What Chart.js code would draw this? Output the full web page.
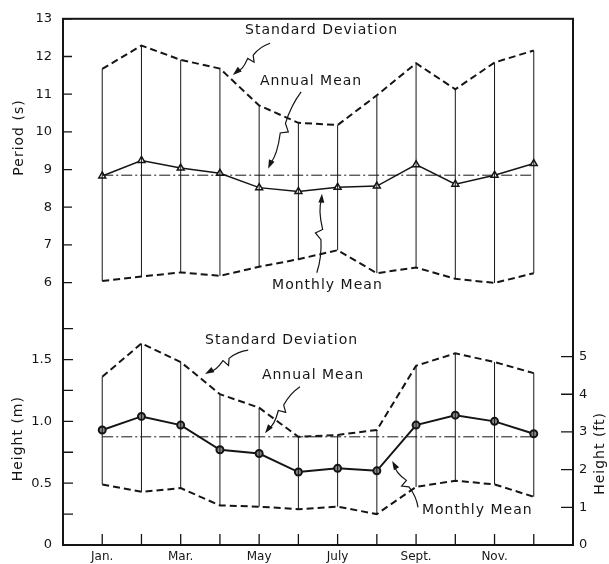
<!DOCTYPE html>
<html lang="en">
<head>
<meta charset="UTF-8" />
<title>Period and Height - Monthly Means</title>
<script src="https://cdn.jsdelivr.net/npm/chart.js"></script>
<style>
  html, body { margin: 0; padding: 0; background: #fff; }
  canvas { display: block; }
</style>
</head>
<body>
<canvas id="grafico" width="609" height="564"></canvas>
<script>
// ---- data ----
const months = [1, 2, 3, 4, 5, 6, 7, 8, 9, 10, 11, 12];
const monthLabels = ['Jan.', '', 'Mar.', '', 'May', '', 'July', '', 'Sept.', '', 'Nov.', ''];

const periodMean  = [8.83, 9.24, 9.04, 8.90, 8.52, 8.42, 8.53, 8.56, 9.13, 8.61, 8.85, 9.16];
const periodUpper = [11.67, 12.29, 11.91, 11.68, 10.70, 10.24, 10.18, 10.97, 11.82, 11.13, 11.84, 12.16];
const periodLower = [6.04, 6.16, 6.27, 6.18, 6.42, 6.62, 6.86, 6.25, 6.40, 6.10, 5.99, 6.25];
const periodAnnual = 8.85;

const heightMean  = [0.93, 1.04, 0.97, 0.77, 0.74, 0.59, 0.62, 0.60, 0.97, 1.05, 1.00, 0.90];
const heightUpper = [1.36, 1.63, 1.48, 1.22, 1.11, 0.875, 0.89, 0.93, 1.45, 1.55, 1.48, 1.39];
const heightLower = [0.49, 0.43, 0.46, 0.32, 0.31, 0.29, 0.31, 0.25, 0.47, 0.52, 0.49, 0.39];
const heightAnnual = 0.875;

const periodTicks = [6, 7, 8, 9, 10, 11, 12, 13];
const heightTicks = [0, 0.25, 0.5, 0.75, 1.0, 1.25, 1.5, 1.75];
const heightTickLabels = ['0', '', '0.5', '', '1.0', '', '1.5', ''];
const feetTicks = [0, 1, 2, 3, 4, 5];

const PERIOD_MIN = 5.5, PERIOD_MAX = 13;
const HEIGHT_MAX = 1.97;
const M_PER_FT = 0.3048;

// notes with leaders (text position and arrow start/tip in data units)
const notes = [
  { axis: 'yP', text: 'Standard Deviation', tx: 4.64, ty: 12.69, from: [5.28, 12.35], to: [4.33, 11.51] },
  { axis: 'yP', text: 'Annual Mean',        tx: 5.02, ty: 11.33, from: [6.07, 11.06], to: [5.23, 9.02] },
  { axis: 'yP', text: 'Monthly Mean',       tx: 5.33, ty: 5.92,  from: [6.47, 6.26],  to: [6.60, 8.36] },
  { axis: 'yH', text: 'Standard Deviation', tx: 3.62, ty: 1.656, from: [4.72, 1.576], to: [3.62, 1.384] },
  { axis: 'yH', text: 'Annual Mean',        tx: 5.07, ty: 1.376, from: [6.04, 1.28],  to: [5.15, 0.904] },
  { axis: 'yH', text: 'Monthly Mean',       tx: 9.15, ty: 0.28,  from: [9.05, 0.304], to: [8.39, 0.68] }
];

const FONT = '"DejaVu Sans", sans-serif';
const INK = '#151515';

const pts = arr => months.map((m, i) => ({ x: m, y: arr[i] }));
const whiskers = (lo, hi) => {
  const out = [];
  months.forEach((m, i) => { out.push({ x: m, y: lo[i] }, { x: m, y: hi[i] }, { x: m, y: null }); });
  return out;
};
const flat = v => [{ x: months[0], y: v }, { x: months[months.length - 1], y: v }];

const base = { type: 'line', pointRadius: 0, borderColor: INK, fill: false, tension: 0 };

// ---- extra drawing: frame, inward ticks, titles, notes ----
const dibujo = {
  id: 'dibujo',
  afterDraw(chart) {
    const { ctx, chartArea: a, scales } = chart;
    ctx.save();
    ctx.strokeStyle = INK;
    ctx.fillStyle = INK;

    ctx.lineWidth = 2;
    ctx.strokeRect(a.left, a.top, a.right - a.left, a.bottom - a.top);

    ctx.lineWidth = 1.3;
    ctx.beginPath();
    periodTicks.forEach(v => { const y = scales.yP.getPixelForValue(v); ctx.moveTo(a.left, y); ctx.lineTo(a.left + 9, y); });
    heightTicks.forEach(v => { const y = scales.yH.getPixelForValue(v); ctx.moveTo(a.left, y); ctx.lineTo(a.left + 10, y); });
    feetTicks.forEach(v => { const y = scales.yFt.getPixelForValue(v); ctx.moveTo(a.right, y); ctx.lineTo(a.right - 12, y); });
    months.forEach(v => { const x = scales.x.getPixelForValue(v); ctx.moveTo(x, a.bottom); ctx.lineTo(x, a.bottom - 11); });
    ctx.stroke();

    // axis titles
    ctx.font = '14px ' + FONT;
    ctx.letterSpacing = '1px';
    ctx.textAlign = 'center';
    ctx.textBaseline = 'middle';
    const vtext = (txt, x, y) => {
      ctx.save(); ctx.translate(x, y); ctx.rotate(-Math.PI / 2); ctx.fillText(txt, 0, 0); ctx.restore();
    };
    vtext('Period (s)', 19, scales.yP.getPixelForValue(9.85));
    vtext('Height (m)', 18, scales.yH.getPixelForValue(0.86));
    vtext('Height (ft)', 600, scales.yFt.getPixelForValue(2.43));

    // notes
    ctx.textAlign = 'left';
    notes.forEach(n => {
      const ys = scales[n.axis];
      ctx.fillText(n.text, scales.x.getPixelForValue(n.tx), ys.getPixelForValue(n.ty));
      const x0 = scales.x.getPixelForValue(n.from[0]), y0 = ys.getPixelForValue(n.from[1]);
      const x1 = scales.x.getPixelForValue(n.to[0]), y1 = ys.getPixelForValue(n.to[1]);
      const dx = x1 - x0, dy = y1 - y0, len = Math.hypot(dx, dy);
      const ux = dx / len, uy = dy / len, px = -uy, py = ux;
      const at = (t, o) => [x0 + dx * t + px * o, y0 + dy * t + py * o];
      ctx.lineWidth = 1.2;
      ctx.beginPath();
      ctx.moveTo(x0, y0);
      let p = at(0.42, 2); ctx.quadraticCurveTo(...at(0.2, 4), ...p);
      p = at(0.5, -4); ctx.lineTo(...p);
      p = at(0.55, 3); ctx.lineTo(...p);
      const e = [x1 - ux * 6, y1 - uy * 6];
      ctx.quadraticCurveTo(...at(0.8, -3), ...e);
      ctx.stroke();
      ctx.beginPath();
      ctx.moveTo(x1, y1);
      ctx.lineTo(x1 - ux * 9 + px * 3, y1 - uy * 9 + py * 3);
      ctx.lineTo(x1 - ux * 9 - px * 3, y1 - uy * 9 - py * 3);
      ctx.closePath();
      ctx.fill();
    });
    ctx.restore();
  }
};

const tickFont = { family: FONT, size: 13 };
const hide = { display: false, drawTicks: false };

new Chart(document.getElementById('grafico'), {
  data: {
    datasets: [
      { ...base, yAxisID: 'yP', data: whiskers(periodLower, periodUpper), borderWidth: 1, spanGaps: false },
      { ...base, yAxisID: 'yP', data: pts(periodUpper), borderWidth: 2, borderDash: [7, 4] },
      { ...base, yAxisID: 'yP', data: pts(periodLower), borderWidth: 2, borderDash: [7, 4] },
      { ...base, yAxisID: 'yP', data: flat(periodAnnual), borderWidth: 1, borderDash: [11, 3, 2, 3] },
      { ...base, yAxisID: 'yP', data: pts(periodMean), borderWidth: 1.5,
        pointRadius: 4, pointStyle: 'triangle', pointBackgroundColor: '#fff', pointBorderColor: INK, pointBorderWidth: 1.5 },

      { ...base, yAxisID: 'yH', data: whiskers(heightLower, heightUpper), borderWidth: 1, spanGaps: false },
      { ...base, yAxisID: 'yH', data: pts(heightUpper), borderWidth: 2, borderDash: [7, 4] },
      { ...base, yAxisID: 'yH', data: pts(heightLower), borderWidth: 2, borderDash: [7, 4] },
      { ...base, yAxisID: 'yH', data: flat(heightAnnual), borderWidth: 1, borderDash: [11, 3, 2, 3] },
      { ...base, yAxisID: 'yH', data: pts(heightMean), borderWidth: 2,
        pointRadius: 3.5, pointStyle: 'circle', pointBackgroundColor: '#888', pointBorderColor: INK, pointBorderWidth: 2 }
    ]
  },
  options: {
    responsive: false,
    animation: false,
    layout: { padding: { top: 13, left: 0, right: 0, bottom: 0 } },
    plugins: { legend: { display: false }, tooltip: { enabled: false } },
    scales: {
      x: {
        type: 'linear', position: 'bottom', min: 0, max: 13,
        afterBuildTicks: s => { s.ticks = months.map(v => ({ value: v })); },
        ticks: { callback: v => monthLabels[months.indexOf(v)] || '', font: { family: FONT, size: 12 },
                 color: INK, padding: 5, maxRotation: 0, autoSkip: false },
        grid: hide, border: { display: false },
        afterFit: s => { s.height = 19; }
      },
      // left stack is laid out in reverse order: bottom panel first
      yH: {
        type: 'linear', position: 'left', stack: 'L', stackWeight: 246.25, min: 0, max: HEIGHT_MAX,
        afterBuildTicks: s => { s.ticks = heightTicks.map(v => ({ value: v })); },
        ticks: { callback: v => heightTickLabels[heightTicks.indexOf(v)], font: tickFont, color: INK, padding: 11 },
        grid: hide, border: { display: false },
        afterFit: s => { s.width = 63; }
      },
      yP: {
        type: 'linear', position: 'left', stack: 'L', stackWeight: 285.75, min: PERIOD_MIN, max: PERIOD_MAX,
        afterBuildTicks: s => { s.ticks = periodTicks.map(v => ({ value: v })); },
        ticks: { font: tickFont, color: INK, padding: 11 },
        grid: hide, border: { display: false },
        afterFit: s => { s.width = 63; }
      },
      yR0: {
        type: 'linear', position: 'right', stack: 'R', stackWeight: 285.75,
        ticks: { display: false }, grid: hide, border: { display: false },
        afterFit: s => { s.width = 36; }
      },
      yFt: {
        type: 'linear', position: 'right', stack: 'R', stackWeight: 246.25, min: 0, max: HEIGHT_MAX / M_PER_FT,
        afterBuildTicks: s => { s.ticks = feetTicks.map(v => ({ value: v })); },
        ticks: { font: tickFont, color: INK, padding: 6 },
        grid: hide, border: { display: false },
        afterFit: s => { s.width = 36; }
      }
    }
  },
  plugins: [dibujo]
});
</script>
</body>
</html>
